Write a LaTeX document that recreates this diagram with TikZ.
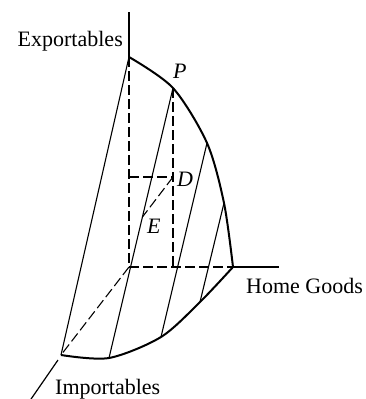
\documentclass[tikz,border=0pt]{standalone}
\usepackage{fontspec}
\setmainfont{Liberation Serif}
\usetikzlibrary{calc}
\begin{document}
\begin{tikzpicture}[x=1pt,y=-1pt,
  lbl/.style={inner sep=0pt, font=\fontsize{22}{22}\selectfont},
  solidline/.style={line width=1.1pt},
  axisline/.style={line width=1.2pt},
  dashline/.style={line width=1.1pt, dash pattern=on 10pt off 4pt},
  curveline/.style={line width=2pt}]
\useasboundingbox (0,0) rectangle (366,399);
\coordinate (A) at (129,12);
\coordinate (T) at (129,57);
\coordinate (O) at (129,267);
\coordinate (H) at (233,267);
\coordinate (Hend) at (279,267);
\coordinate (I) at (61,355);
\coordinate (Is) at (58,360);
\coordinate (Iend) at (29,402);
\coordinate (P) at (173,88);
\coordinate (Q2) at (207,143);
\coordinate (Q3) at (224,203);
\coordinate (B1) at (109,358);
\coordinate (B2) at (161,337);
\coordinate (B3) at (200,302);
\coordinate (Pb) at (173,267);
\coordinate (D) at (173,177);
\coordinate (Dl) at (129,177);
\coordinate (E) at ($(P)!0.478!(B1)$);
% axes
\draw[axisline] (A) -- (T);
\draw[dashline] (T) -- (O);
\draw[dashline] (O) -- (H);
\draw[axisline] (H) -- (Hend);
\draw[dashline] (O) -- (I);
\draw[axisline] (Is) -- (Iend);
% surface boundary
\draw[curveline] plot[smooth] coordinates {(T) (P) (Q2) (Q3) (H)};
\draw[curveline] plot[smooth] coordinates {(H) (B3) (B2) (B1) (I)};
% hatching
\draw[solidline] (T) -- (I);
\draw[solidline] (P) -- (B1);
\draw[solidline] (Q2) -- (B2);
\draw[solidline] (Q3) -- (B3);
% dashed constructions
\draw[dashline] (P) -- (Pb);
\draw[dashline] (Dl) -- (D);
\draw[dashline] (D) -- (E);
% labels
\node[lbl, anchor=base east] (xl) at (123,46.5) {Exportables};
\node[lbl, anchor=base west] (pl) at (173,78) {\itshape P};
\node[lbl, anchor=base west] (dl) at (177,186) {\itshape D};
\node[lbl, anchor=base west] (el) at (147,233) {\itshape E};
\node[lbl, anchor=base west] (hl) at (246,293) {Home Goods};
\node[lbl, anchor=base west] (il) at (55,394) {Importables};
\end{tikzpicture}
\end{document}
